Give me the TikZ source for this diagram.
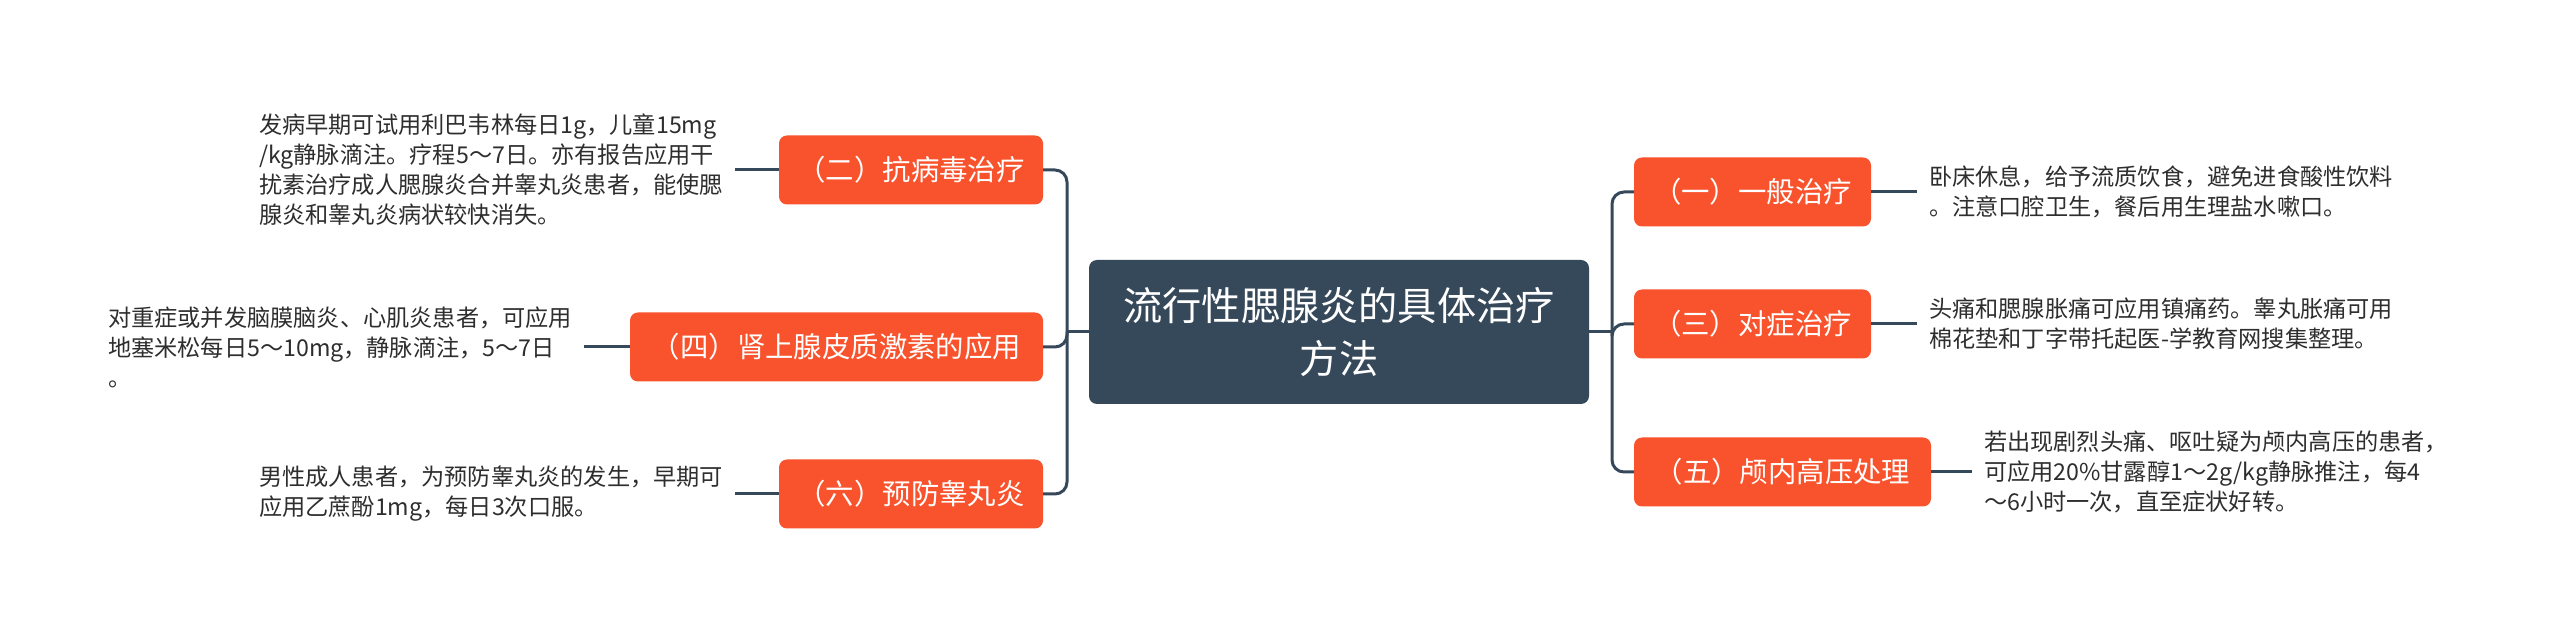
\documentclass[tikz,border=0pt]{standalone}
\usepackage{fontspec}
\setmainfont{Noto Sans CJK SC}
\definecolor{dark}{HTML}{36495A}
\definecolor{orng}{HTML}{F9532D}
\definecolor{leaftxt}{HTML}{2E2E2E}
\begin{document}
\begin{tikzpicture}[x=0.5pt,y=-0.5pt,
  central/.style={fill=dark, rounded corners=4pt, text=white, font=\fontsize{19.6pt}{26.5pt}\selectfont, minimum width=250pt, minimum height=72pt, align=center, inner sep=0pt, outer sep=0pt},
  branch/.style={fill=orng, rounded corners=4pt, text=white, font=\fontsize{14.2pt}{17pt}\selectfont, minimum height=34.5pt, inner sep=0pt, outer sep=0pt},
  leaf/.style={text=leaftxt, font=\fontsize{11.6pt}{15pt}\selectfont, align=left, inner xsep=6pt, inner ysep=0pt, outer sep=0pt},
  conn/.style={draw=dark, line width=1.5pt},
  trunk/.style={draw=dark, line width=1.5pt, rounded corners=6pt}]
\fill[white] (0,0) rectangle (2560,635);
\useasboundingbox (0,0) rectangle (2560,635);
% central
\node[central] (C) at (1339,332) {流行性腮腺炎的具体治疗\\方法};
% branches
\node[branch, minimum width=132pt] (B2) at (911,170) {（二）抗病毒治疗};
\node[branch, minimum width=206.5pt] (B4) at (836.5,347) {（四）肾上腺皮质激素的应用};
\node[branch, minimum width=132pt] (B6) at (911,494) {（六）预防睾丸炎};
\node[branch, minimum width=118.5pt] (B1) at (1752.5,192) {（一）一般治疗};
\node[branch, minimum width=118.5pt] (B3) at (1752.5,324) {（三）对症治疗};
\node[branch, minimum width=148.5pt] (B5) at (1782.5,472) {（五）颅内高压处理};
% leaves
\node[leaf, anchor=east] (L2) at (735,170) {发病早期可试用利巴韦林每日1g，儿童15mg\\/kg静脉滴注。疗程5～7日。亦有报告应用干\\扰素治疗成人腮腺炎合并睾丸炎患者，能使腮\\腺炎和睾丸炎病状较快消失。};
\node[leaf, anchor=east] (L4) at (584,347) {对重症或并发脑膜脑炎、心肌炎患者，可应用\\地塞米松每日5～10mg，静脉滴注，5～7日\\。};
\node[leaf, anchor=east] (L6) at (735,494) {男性成人患者，为预防睾丸炎的发生，早期可\\应用乙蔗酚1mg，每日3次口服。};
\node[leaf, anchor=west] (L1) at (1917,192) {卧床休息，给予流质饮食，避免进食酸性饮料\\。注意口腔卫生，餐后用生理盐水嗽口。};
\node[leaf, anchor=west] (L3) at (1917,324) {头痛和腮腺胀痛可应用镇痛药。睾丸胀痛可用\\棉花垫和丁字带托起医-学教育网搜集整理。};
\node[leaf, anchor=west] (L5) at (1972,472) {若出现剧烈头痛、呕吐疑为颅内高压的患者，\\可应用20\%甘露醇1～2g/kg静脉推注，每4\\～6小时一次，直至症状好转。};
% trunks
\coordinate (LT) at (1067,332);
\coordinate (RT) at (1612,332);
\draw[conn] (C.west) -- (LT);
\draw[conn] (C.east) -- (RT);
\draw[trunk] (LT) |- (B2.east);
\draw[trunk] (LT) |- (B4.east);
\draw[trunk] (LT) |- (B6.east);
\draw[trunk] (RT) |- (B1.west);
\draw[trunk] (RT) |- (B3.west);
\draw[trunk] (RT) |- (B5.west);
% leaf connectors
\draw[conn] (B2.west) -- (L2.east);
\draw[conn] (B4.west) -- (L4.east);
\draw[conn] (B6.west) -- (L6.east);
\draw[conn] (B1.east) -- (L1.west);
\draw[conn] (B3.east) -- (L3.west);
\draw[conn] (B5.east) -- (L5.west);
\end{tikzpicture}
\end{document}
